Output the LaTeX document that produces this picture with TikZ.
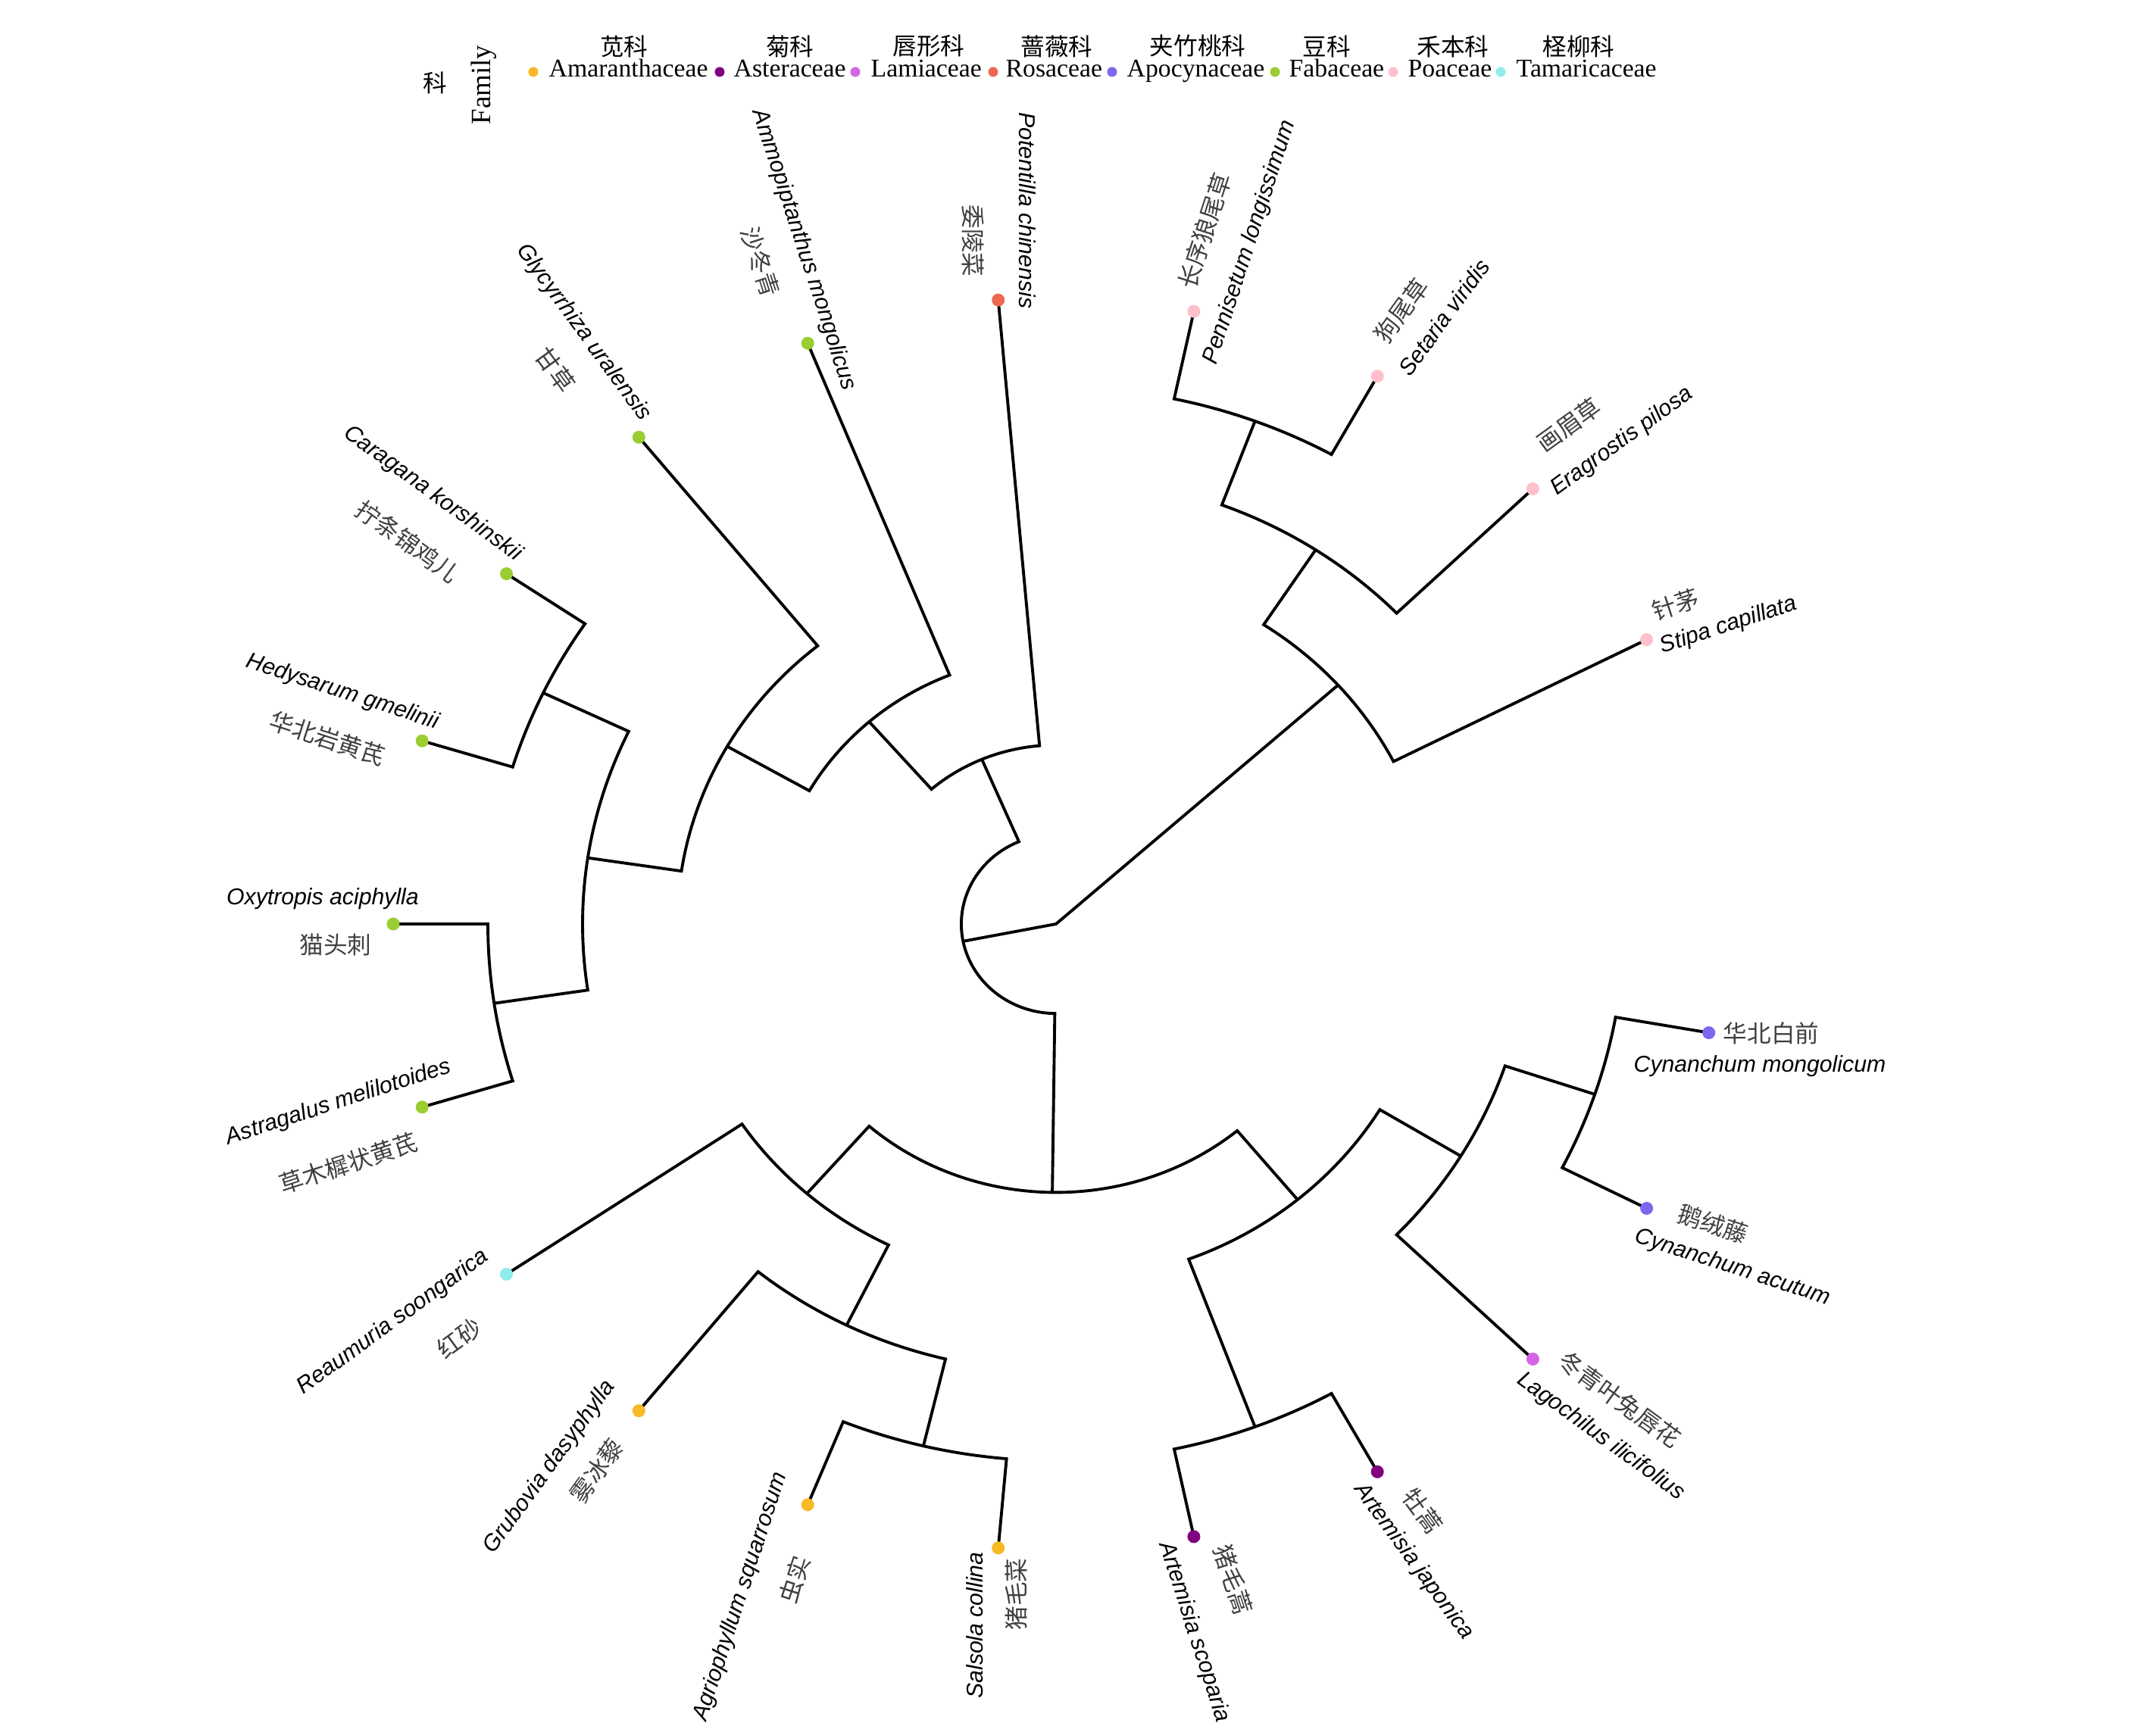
\documentclass[tikz,border=0pt]{standalone}
\usepackage{fontspec}
\setmainfont{Liberation Serif}
\setsansfont{Liberation Sans}
\newfontfamily\cjk{Noto Sans CJK SC}
\usetikzlibrary{positioning}
\definecolor{amaranth}{RGB}{248, 185, 36}
\definecolor{aster}{RGB}{128, 0, 128}
\definecolor{lamia}{RGB}{212, 102, 228}
\definecolor{rosa}{RGB}{238, 104, 80}
\definecolor{apocyn}{RGB}{123, 104, 238}
\definecolor{faba}{RGB}{154, 205, 50}
\definecolor{poa}{RGB}{255, 192, 203}
\definecolor{tamar}{RGB}{145, 236, 236}

% clade: radius, angle child 1, angle child 2, child 1, child 2
\newcommand{\clade}[5]{%
  \draw[branch] (#4) -- (#2:#1)
    arc[start angle=#2, end angle=#3, x radius=#1*8.75cm, y radius=#1*8.27cm] -- (#5);}

\begin{document}
\begin{tikzpicture}[x=8.75cm, y=8.27cm,
  branch/.style={line width=1.1pt},
  tipdot/.style={circle, inner sep=0pt, minimum size=1.7mm},
  keydot/.style={circle, inner sep=0pt, minimum size=1.3mm},
  latin/.style={font=\sffamily\itshape\fontsize{8.6}{10}\selectfont, inner sep=0pt},
  cn/.style={font=\cjk\fontsize{9}{10}\selectfont, text=black!75, inner sep=0pt},
  key/.style={font=\rmfamily\fontsize{9.6}{11}\selectfont, inner sep=0pt},
]
\fill[white] (-13.94cm,-10.55cm) rectangle (14.52cm,12.20cm);
\useasboundingbox (-13.94cm,-10.55cm) rectangle (14.52cm,12.20cm);

% Internal nodes
\coordinate (root) at (0,0);
\coordinate (nP) at (41.875:0.5714);
\coordinate (nPSE) at (56.75:0.7143);
\coordinate (nPS) at (69.5:0.8571);
\coordinate (nR) at (191.156:0.1429);
\coordinate (nZ) at (113.0625:0.2857);
\coordinate (nY) at (131.125:0.4286);
\coordinate (nX) at (150.25:0.5714);
\coordinate (nHCAO) at (171.5:0.7143);
\coordinate (nHC) at (154.5:0.8571);
\coordinate (nAO) at (188.5:0.8571);
\coordinate (nB) at (269.25:0.4286);
\coordinate (nB1) at (228.875:0.5714);
\coordinate (nC1) at (243.75:0.7143);
\coordinate (nSA) at (256.5:0.8571);
\coordinate (nB2) at (309.625:0.5714);
\coordinate (nAstP) at (290.5:0.8571);
\coordinate (nQ) at (328.75:0.7143);
\coordinate (nApP) at (341.5:0.8571);

% Tips
\coordinate (t-stipa) at (27:1);
\coordinate (t-eragr) at (44:1);
\coordinate (t-setar) at (61:1);
\coordinate (t-penni) at (78:1);
\coordinate (t-poten) at (95:1);
\coordinate (t-ammop) at (112:1);
\coordinate (t-glycy) at (129:1);
\coordinate (t-carag) at (146:1);
\coordinate (t-hedys) at (163:1);
\coordinate (t-oxytr) at (180:1);
\coordinate (t-astra) at (197:1);
\coordinate (t-reaum) at (214:1);
\coordinate (t-grubo) at (231:1);
\coordinate (t-agrio) at (248:1);
\coordinate (t-salso) at (265:1);
\coordinate (t-ascop) at (282:1);
\coordinate (t-ajapo) at (299:1);
\coordinate (t-lagoc) at (316:1);
\coordinate (t-cacut) at (333:1);
\coordinate (t-cmong) at (350:1);

% Branches
\draw[branch] (nP) -- (root) -- (nR);
\clade{0.5714}{56.75}{27}{nPSE}{t-stipa}
\clade{0.7143}{69.5}{44}{nPS}{t-eragr}
\clade{0.8571}{78}{61}{t-penni}{t-setar}
\clade{0.1429}{113.0625}{269.25}{nZ}{nB}
\clade{0.2857}{131.125}{95}{nY}{t-poten}
\clade{0.4286}{150.25}{112}{nX}{t-ammop}
\clade{0.5714}{171.5}{129}{nHCAO}{t-glycy}
\clade{0.7143}{154.5}{188.5}{nHC}{nAO}
\clade{0.8571}{146}{163}{t-carag}{t-hedys}
\clade{0.8571}{180}{197}{t-oxytr}{t-astra}
\clade{0.4286}{228.875}{309.625}{nB1}{nB2}
\clade{0.5714}{214}{243.75}{t-reaum}{nC1}
\clade{0.7143}{231}{256.5}{t-grubo}{nSA}
\clade{0.8571}{248}{265}{t-agrio}{t-salso}
\clade{0.5714}{290.5}{328.75}{nAstP}{nQ}
\clade{0.8571}{282}{299}{t-ascop}{t-ajapo}
\clade{0.7143}{316}{341.5}{t-lagoc}{nApP}
\clade{0.8571}{333}{350}{t-cacut}{t-cmong}

% Tip points
\node[tipdot, fill=poa] (d-stipa) at (t-stipa) {};
\node[tipdot, fill=poa] (d-eragr) at (t-eragr) {};
\node[tipdot, fill=poa] (d-setar) at (t-setar) {};
\node[tipdot, fill=poa] (d-penni) at (t-penni) {};
\node[tipdot, fill=rosa] (d-poten) at (t-poten) {};
\node[tipdot, fill=faba] (d-ammop) at (t-ammop) {};
\node[tipdot, fill=faba] (d-glycy) at (t-glycy) {};
\node[tipdot, fill=faba] (d-carag) at (t-carag) {};
\node[tipdot, fill=faba] (d-hedys) at (t-hedys) {};
\node[tipdot, fill=faba] (d-oxytr) at (t-oxytr) {};
\node[tipdot, fill=faba] (d-astra) at (t-astra) {};
\node[tipdot, fill=tamar] (d-reaum) at (t-reaum) {};
\node[tipdot, fill=amaranth] (d-grubo) at (t-grubo) {};
\node[tipdot, fill=amaranth] (d-agrio) at (t-agrio) {};
\node[tipdot, fill=amaranth] (d-salso) at (t-salso) {};
\node[tipdot, fill=aster] (d-ascop) at (t-ascop) {};
\node[tipdot, fill=aster] (d-ajapo) at (t-ajapo) {};
\node[tipdot, fill=lamia] (d-lagoc) at (t-lagoc) {};
\node[tipdot, fill=apocyn] (d-cacut) at (t-cacut) {};
\node[tipdot, fill=apocyn] (d-cmong) at (t-cmong) {};

% Tip labels
\node[latin, rotate=18] (l-stipa) at (8.88cm,3.94cm) {Stipa capillata};
\node[cn, rotate=18] (c-stipa) at (8.18cm,4.22cm) {针茅};
\node[latin, rotate=36] (l-eragr) at (7.47cm,6.37cm) {Eragrostis pilosa};
\node[cn, rotate=36] (c-eragr) at (6.77cm,6.59cm) {画眉草};
\node[latin, rotate=54] (l-setar) at (5.12cm,8.01cm) {Setaria viridis};
\node[cn, rotate=54] (c-setar) at (4.56cm,8.10cm) {狗尾草};
\node[latin, rotate=72] (l-penni) at (2.56cm,9.00cm) {Pennisetum longissimum};
\node[cn, rotate=72] (c-penni) at (1.96cm,9.15cm) {长序狼尾草};
\node[latin, rotate=-90] (l-poten) at (-0.38cm,9.42cm) {Potentilla chinensis};
\node[cn, rotate=-90] (c-poten) at (-1.09cm,9.02cm) {委陵菜};
\node[latin, rotate=-72] (l-ammop) at (-3.33cm,8.90cm) {Ammopiptanthus mongolicus};
\node[cn, rotate=-72] (c-ammop) at (-3.90cm,8.74cm) {沙冬青};
\node[latin, rotate=-54] (l-glycy) at (-6.24cm,7.81cm) {Glycyrrhiza uralensis};
\node[cn, rotate=-54] (c-glycy) at (-6.61cm,7.32cm) {甘草};
\node[latin, rotate=-36] (l-carag) at (-8.23cm,5.68cm) {Caragana korshinskii};
\node[cn, rotate=-36] (c-carag) at (-8.56cm,5.05cm) {拧条锦鸡儿};
\node[latin, rotate=-18] (l-hedys) at (-9.42cm,3.06cm) {Hedysarum gmelinii};
\node[cn, rotate=-18] (c-hedys) at (-9.62cm,2.45cm) {华北岩黄芪};
\node[latin] (l-oxytr) at (-9.68cm,0.33cm) {Oxytropis aciphylla};
\node[cn] (c-oxytr) at (-9.51cm,-0.27cm) {猫头刺};
\node[latin, rotate=18] (l-astra) at (-9.47cm,-2.36cm) {Astragalus melilotoides};
\node[cn, rotate=18] (c-astra) at (-9.34cm,-3.16cm) {草木樨状黄芪};
\node[latin, rotate=36] (l-reaum) at (-8.75cm,-5.26cm) {Reaumuria soongarica};
\node[cn, rotate=36] (c-reaum) at (-7.88cm,-5.47cm) {红砂};
\node[latin, rotate=54] (l-grubo) at (-6.68cm,-7.17cm) {Grubovia dasyphylla};
\node[cn, rotate=54] (c-grubo) at (-6.06cm,-7.22cm) {雾冰藜};
\node[latin, rotate=72] (l-agrio) at (-4.16cm,-8.88cm) {Agriophyllum squarrosum};
\node[cn, rotate=72] (c-agrio) at (-3.45cm,-8.66cm) {虫实};
\node[latin, rotate=90] (l-salso) at (-1.07cm,-9.26cm) {Salsola collina};
\node[cn, rotate=90] (c-salso) at (-0.53cm,-8.85cm) {猪毛菜};
\node[latin, rotate=-72] (l-ascop) at (1.82cm,-9.35cm) {Artemisia scoparia};
\node[cn, rotate=-72] (c-ascop) at (2.34cm,-8.66cm) {猪毛蒿};
\node[latin, rotate=-54] (l-ajapo) at (4.72cm,-8.42cm) {Artemisia japonica};
\node[cn, rotate=-54] (c-ajapo) at (4.84cm,-7.75cm) {牡蒿};
\node[latin, rotate=-36] (l-lagoc) at (7.19cm,-6.77cm) {Lagochilus ilicifolius};
\node[cn, rotate=-36] (c-lagoc) at (7.44cm,-6.28cm) {冬青叶兔唇花};
\node[latin, rotate=-18] (l-cacut) at (8.93cm,-4.54cm) {Cynanchum acutum};
\node[cn, rotate=-18] (c-cacut) at (8.67cm,-3.96cm) {鹅绒藤};
\node[latin] (l-cmong) at (9.29cm,-1.88cm) {Cynanchum mongolicum};
\node[cn] (c-cmong) at (9.44cm,-1.44cm) {华北白前};

% Legend
\node[cn, text=black] (key-cn) at (-8.20cm,11.11cm) {科};
\node[key, font=\rmfamily\fontsize{10.5}{12}\selectfont, rotate=90] (key-title) at (-7.55cm,11.08cm) {Family};
\node[keydot, fill=amaranth] (k1) at (-6.90cm,11.25cm) {};
\node[key, anchor=base west] (k1-l) at (-6.70cm,11.18cm) {Amaranthaceae};
\node[cn, text=black] (k1-c) at (-5.70cm,11.59cm) {苋科};
\node[keydot, fill=aster] (k2) at (-4.44cm,11.25cm) {};
\node[key, anchor=base west] (k2-l) at (-4.26cm,11.18cm) {Asteraceae};
\node[cn, text=black] (k2-c) at (-3.51cm,11.59cm) {菊科};
\node[keydot, fill=lamia] (k3) at (-2.65cm,11.25cm) {};
\node[key, anchor=base west] (k3-l) at (-2.45cm,11.18cm) {Lamiaceae};
\node[cn, text=black] (k3-c) at (-1.68cm,11.59cm) {唇形科};
\node[keydot, fill=rosa] (k4) at (-0.83cm,11.25cm) {};
\node[key, anchor=base west] (k4-l) at (-0.67cm,11.18cm) {Rosaceae};
\node[cn, text=black] (k4-c) at (0.01cm,11.59cm) {蔷薇科};
\node[keydot, fill=apocyn] (k5) at (0.74cm,11.25cm) {};
\node[key, anchor=base west] (k5-l) at (0.93cm,11.18cm) {Apocynaceae};
\node[cn, text=black] (k5-c) at (1.87cm,11.59cm) {夹竹桃科};
\node[keydot, fill=faba] (k6) at (2.89cm,11.25cm) {};
\node[key, anchor=base west] (k6-l) at (3.07cm,11.18cm) {Fabaceae};
\node[cn, text=black] (k6-c) at (3.57cm,11.59cm) {豆科};
\node[keydot, fill=poa] (k7) at (4.45cm,11.25cm) {};
\node[key, anchor=base west] (k7-l) at (4.64cm,11.18cm) {Poaceae};
\node[cn, text=black] (k7-c) at (5.24cm,11.59cm) {禾本科};
\node[keydot, fill=tamar] (k8) at (5.87cm,11.25cm) {};
\node[key, anchor=base west] (k8-l) at (6.07cm,11.18cm) {Tamaricaceae};
\node[cn, text=black] (k8-c) at (6.90cm,11.59cm) {柽柳科};
\end{tikzpicture}
\end{document}
